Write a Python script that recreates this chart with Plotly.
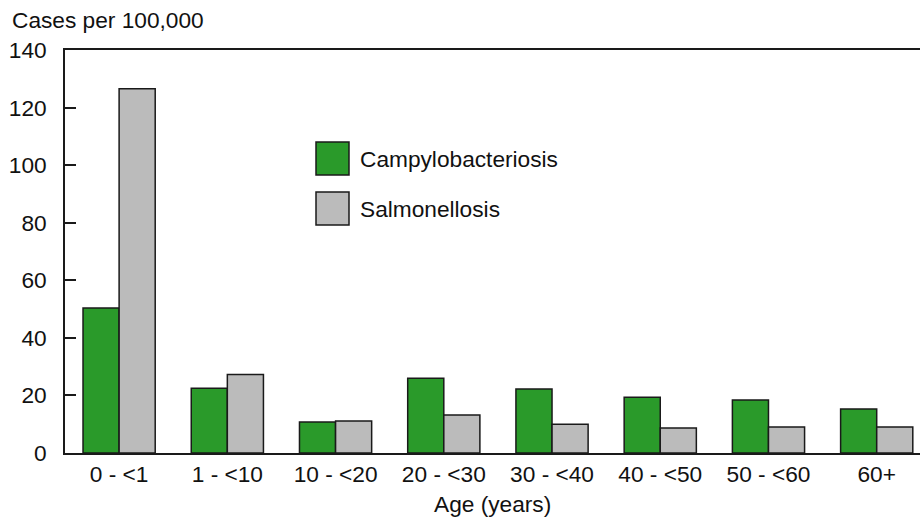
import plotly.graph_objects as go

categories = ["0 - <1", "1 - <10", "10 - <20", "20 - <30", "30 - <40", "40 - <50", "50 - <60", "60+"]
campylobacteriosis = [50.4, 22.5, 10.8, 26.0, 22.2, 19.4, 18.4, 15.3]
salmonellosis = [126.5, 27.3, 11.1, 13.2, 10.0, 8.7, 9.0, 9.0]
series_names = ["Campylobacteriosis", "Salmonellosis"]
y_ticks = [0, 20, 40, 60, 80, 100, 120, 140]

colors = ["#2a9a2a", "#bbbbbb"]
line_col = "#1a1a1a"
FONT = "Liberation Sans, Arial, sans-serif"
FS = 22.7

fig = go.Figure()
for name, vals, col in zip(series_names, [campylobacteriosis, salmonellosis], colors):
    fig.add_trace(go.Bar(
        x=list(range(len(categories))), y=vals, name=name,
        marker=dict(color=col, line=dict(color=line_col, width=1.5)),
        showlegend=False,
    ))

fig.update_layout(
    width=920, height=519,
    margin=dict(l=65, r=0, t=50, b=66),
    paper_bgcolor="white", plot_bgcolor="white",
    barmode="group", bargap=0.333, bargroupgap=0,
    font=dict(family=FONT, size=FS, color="#111"),
    xaxis=dict(
        range=[-0.5, 7.40], tickmode="array",
        tickvals=list(range(len(categories))), ticktext=categories,
        showline=True, linecolor=line_col, linewidth=1.5, mirror=True,
        ticks="", showgrid=False, zeroline=False,
        tickfont=dict(size=FS),
    ),
    yaxis=dict(
        range=[0, 140], tickvals=y_ticks,
        showline=True, linecolor=line_col, linewidth=1.5,
        ticks="inside", ticklen=11, tickwidth=1.5, tickcolor=line_col,
        showgrid=False, zeroline=False, tickfont=dict(size=FS),
        ticklabelstandoff=12,
    ),
)

fig.add_annotation(x=(10 - 65) / 855, y=(453 - 20) / 403, xref="paper", yref="paper",
                   text="Cases per 100,000", showarrow=False,
                   xanchor="left", yanchor="middle", font=dict(size=FS))
fig.add_annotation(x=0.5, y=(453 - 504) / 403, xref="paper", yref="paper",
                   text="Age (years)", showarrow=False,
                   xanchor="center", yanchor="middle", font=dict(size=FS))

# legend drawn manually
leg = [(142, 175), (192, 225)]
for (top, bot), name, col in zip(leg, series_names, colors):
    fig.add_shape(type="rect", xref="paper", yref="paper",
                  x0=(316 - 65) / 855, x1=(349 - 65) / 855,
                  y0=(453 - bot) / 403, y1=(453 - top) / 403,
                  fillcolor=col, line=dict(color=line_col, width=1.5))
    fig.add_annotation(x=(358 - 65) / 855, y=(453 - (top + bot) / 2) / 403,
                       xref="paper", yref="paper", text=name, showarrow=False,
                       xanchor="left", yanchor="middle", font=dict(size=FS))

fig.write_html("out.html", config={"displayModeBar": False},
               post_script="document.body.style.margin='0';")
